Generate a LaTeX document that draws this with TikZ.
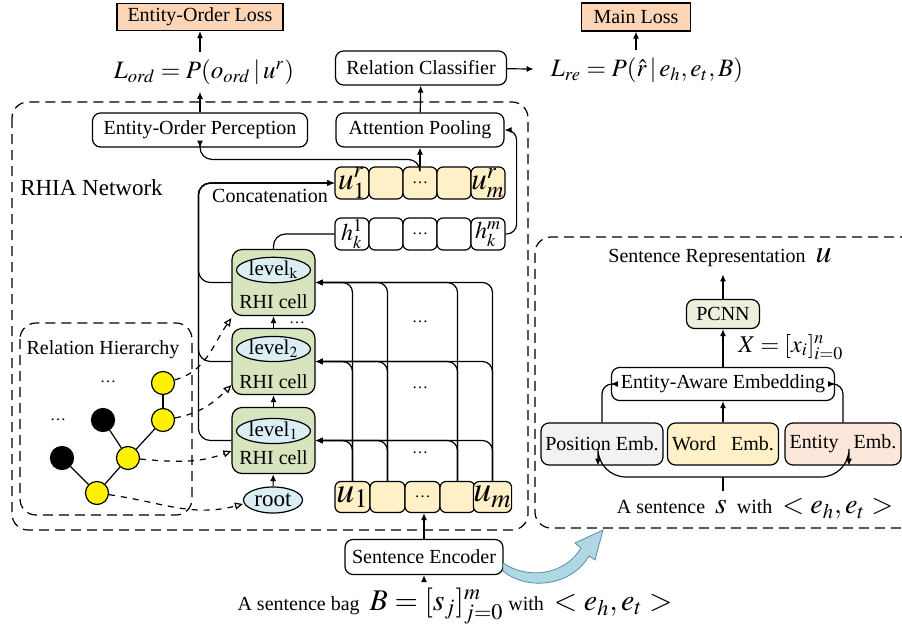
\documentclass[tikz,border=0pt]{standalone}
\usepackage{amsmath}
\usepackage{mathptmx}
\usepackage[no-math]{fontspec}
\setmainfont{Liberation Serif}
\usepackage{tikz}
\usetikzlibrary{arrows.meta,shapes.geometric,positioning}

\definecolor{lossfill}{RGB}{251,213,181}
\definecolor{cellfill}{RGB}{215,228,189}
\definecolor{lvlfill}{RGB}{219,238,244}
\definecolor{vecfill}{RGB}{255,240,200}
\definecolor{pcnnfill}{RGB}{235,241,222}
\definecolor{posfill}{RGB}{242,242,242}
\definecolor{entfill}{RGB}{252,232,218}
\definecolor{bluefill}{RGB}{176,216,228}
\definecolor{blueline}{RGB}{90,140,165}

\tikzset{
    arr/.style={-{Latex[length=3.5pt,width=3pt]}},
    dasharr/.style={dashed,-{Triangle[open,length=4pt,width=3.5pt]}},
    dashframe/.style={dash pattern=on 5pt off 3pt,rounded corners=8pt},
    box/.style={draw,rounded corners=4pt,fill=white,inner sep=1pt},
    lossbox/.style={draw,fill=lossfill,inner sep=1pt},
    vecbox/.style={draw,rounded corners=3pt,inner sep=0pt,minimum width=17pt,minimum height=16pt},
    cellbox/.style={draw,rounded corners=5pt,fill=cellfill,minimum width=41.5pt,minimum height=33pt},
    lvl/.style={ellipse,draw,fill=lvlfill,inner sep=0pt,minimum width=37pt,minimum height=12pt,font=\fontsize{10.5}{12}\selectfont},
    hnode/.style={circle,draw,fill=yellow,inner sep=0pt,minimum size=11.5pt},
    bnode/.style={circle,draw,fill=black,inner sep=0pt,minimum size=11.5pt},
    formula/.style={font=\fontsize{12.5}{15}\selectfont},
    dots/.style={inner sep=0pt,font=\footnotesize},
}

\begin{document}
\begin{tikzpicture}[x=0.5pt,y=-0.5pt,line width=0.6pt]
    \useasboundingbox (0,0) rectangle (902,628);

    % frames
    \draw[dashframe] (12,102) rectangle (528,530);
    \draw[dashframe] (20,323) rectangle (192,515);
    \draw[dashframe] (910,237) -- (535,237) -- (535,528) -- (910,528);

    % losses and heads
    \node[lossbox,minimum width=83pt,minimum height=13.5pt] (eoloss) at (200,17) {Entity-Order Loss};
    \node[formula] (lord) at (204,72) {$L_{ord} = P(o_{ord}\,|\,u^{r})$};
    \node[lossbox,minimum width=54.5pt,minimum height=14pt] (mainloss) at (636,17) {Main Loss};
    \node[formula] (lre) at (647,70) {$L_{re} = P(\hat{r}\,|\,e_{h},e_{t},B)$};
    \node[box,minimum width=85.5pt,minimum height=17pt] (cls) at (421,68) {Relation Classifier};
    \node[box,minimum width=107.5pt,minimum height=17pt] (eop) at (200,130) {Entity-Order Perception};
    \node[box,minimum width=84pt,minimum height=17pt] (attn) at (420,130) {Attention Pooling};
    \node[anchor=west,font=\fontsize{11.5}{13}\selectfont] (rhia) at (13,188) {RHIA Network};

    \draw[arr] (eoloss.south |- lord.north) -- (eoloss.south);
    \draw[arr] (eop.north) -- (eop.north |- lord.south);
    \draw[arr] (mainloss.south |- lre.north) -- (mainloss.south);
    \draw[arr] (attn) -- (cls);
    \draw[arr,shorten >=5pt] (cls) -- (lre);

    % vectors
    \foreach \i/\lab in {1/{$u^{r}_{1}$},2/{},3/{{\footnotesize\dots}},4/{},5/{$u^{r}_{m}$}}
        \node[vecbox,fill=vecfill,font=\fontsize{15.5}{15.5}\selectfont] (ur\i) at (318+34*\i,183) {\lab};
    \foreach \i/\lab in {1/{$h^{1}_{k}$},2/{},3/{{\footnotesize\dots}},4/{},5/{$h^{m}_{k}$}}
        \node[vecbox,fill=white,font=\fontsize{12}{12}\selectfont] (h\i) at (318+34*\i,234) {\lab};
    \foreach \i/\lab in {1/{$u_{1}$},2/{},3/{{\footnotesize\dots}},4/{},5/{$u_{m}$}}
        \node[vecbox,fill=vecfill,minimum width=17.5pt,minimum height=15.5pt,font=\fontsize{18}{18}\selectfont] (u\i) at (317.5+35*\i,497) {\lab};

    % RHI cells
    \node[cellbox] (ck) at (273.5,282.5) {};
    \node[cellbox] (c2) at (273.5,361.5) {};
    \node[cellbox] (c1) at (273.5,440.5) {};
    \node[lvl] (lk) at (273.5,270) {level$_{\mathrm{k}}$};
    \node[lvl] (l2) at (273.5,349) {level$_{2}$};
    \node[lvl] (l1) at (273.5,431) {level$_{1}$};
    \node (rk) at (273.5,302) {RHI cell};
    \node (r2) at (273.5,382) {RHI cell};
    \node (r1) at (273.5,458) {RHI cell};
    \node[lvl,minimum width=29.5pt,minimum height=13pt,font=\fontsize{11.5}{13}\selectfont] (root) at (273,500) {root};
    \node[dots] (dcell) at (297,323) {\dots};

    \draw[arr] (root) -- (c1);
    \draw[arr] (c1) -- (c2);
    \draw[arr] (c2) -- (ck);

    \foreach \c in {ck,c2,c1}
        \foreach \i in {1,2,4,5}
            \draw[arr,rounded corners=5pt] (u\i.north) |- (\c.east);
    \node[dots] (dg1) at (420,322) {\dots};
    \node[dots] (dg2) at (420,388) {\dots};
    \node[dots] (dg3) at (420,453) {\dots};

    % concatenation and pooling
    \foreach \c in {ck,c2,c1}
        \draw[arr,rounded corners=6pt] (\c.west) -- ++(-33,0) |- (ur1.west);
    \node (concat) at (270,196) {Concatenation};
    \draw[rounded corners=6pt] (ck.north) |- (h1.west);
    \draw[arr,rounded corners=5pt] (h5.east) -- ++(11,0) |- (attn.east);
    \draw[arr] (ur3.north) -- (attn.south);
    \draw[arr,rounded corners=6pt] (ur3.north) -- ++(0,-7) -| (eop.south);

    % relation hierarchy
    \node (rh) at (103,350) {Relation Hierarchy};
    \node[hnode] (ta) at (163,383) {};
    \node[hnode] (tb) at (163,420) {};
    \node[bnode] (tc) at (103,420) {};
    \node[hnode] (td) at (128,458) {};
    \node[bnode] (te) at (62,458) {};
    \node[hnode] (tf) at (97,493) {};
    \node[dots] (dt1) at (108,382) {\dots};
    \node[dots] (dt2) at (58,420) {\dots};
    \draw (ta) -- (tb);
    \draw (tb) -- (td);
    \draw (tc) -- (td);
    \draw (td) -- (tf);
    \draw (te) -- (tf);

    \draw[dasharr] (ta) to[out=15,in=235] ([yshift=-1pt]ck.south west);
    \draw[dasharr] (tb) to[out=10,in=225] ([yshift=5pt]c2.south west);
    \draw[dasharr] (td) to[out=-5,in=200] ([yshift=11.5pt]c1.south west);
    \draw[dasharr] (tf) to[out=-8,in=195] ([yshift=-2pt]root.west);

    % sentence encoder
    \node[box,minimum width=79pt,minimum height=17.5pt] (enc) at (424,557) {Sentence Encoder};
    \node (bag) at (455,606) {A sentence bag \ {\fontsize{15}{16}\selectfont$B=[s_{j}]_{j=0}^{m}$} with \ {\fontsize{15}{16}\selectfont$<e_{h},e_{t}>$}};
    \draw[arr] (enc.north) -- (enc.north |- u3.south);
    \draw[arr] (enc.south |- bag.north) -- (enc.south);
    \draw[draw=blueline,fill=bluefill,line width=0.4pt] (503,563) .. controls (528,580) and (565,575) .. (581,548) -- (575,543) -- (603,530) -- (595,560) -- (589,556) .. controls (570,588) and (525,590) .. (503,571) -- cycle;

    % sentence representation
    \node (srep) at (720,258) {Sentence Representation \ {\fontsize{16}{16}\selectfont$u$}};
    \node[box,fill=pcnnfill,minimum width=36.5pt,minimum height=14.5pt] (pcnn) at (723,314) {PCNN};
    \node[formula,anchor=west,font=\fontsize{12}{14}\selectfont] (xlab) at (731,347) {$X=[x_{i}]_{i=0}^{n}$};
    \node[box,minimum width=111.5pt,minimum height=16.5pt] (eae) at (723,384) {Entity-Aware Embedding};
    \node[box,fill=posfill,minimum width=61pt,minimum height=21pt] (pos) at (602,444) {Position Emb.};
    \node[box,fill=vecfill,minimum width=55.5pt,minimum height=21pt] (word) at (723,444) {Word~~ Emb.};
    \node[box,fill=entfill,minimum width=58pt,minimum height=21pt] (ent) at (843,444) {Entity~~ Emb.};
    \node (sent) at (755,509) {A sentence \ {\fontsize{15}{16}\selectfont$s$} \ with \ {\fontsize{14}{16}\selectfont$<e_{h},e_{t}>$}};
    \coordinate (split) at (723,477);

    \draw[arr] (pcnn) -- (pcnn |- srep.south);
    \draw[arr] (eae) -- (pcnn);
    \draw[arr] (word) -- (eae);
    \draw[arr,rounded corners=5pt] (pos.north) |- (eae.west);
    \draw[arr,rounded corners=5pt] (ent.north) |- (eae.east);
    \draw (sent.north -| split) -- (split);
    \draw[arr,rounded corners=14pt] (split) -| ([xshift=-2pt]pos.south);
    \draw[arr,rounded corners=14pt] (split) -| ([xshift=3pt]ent.south);
\end{tikzpicture}
\end{document}
